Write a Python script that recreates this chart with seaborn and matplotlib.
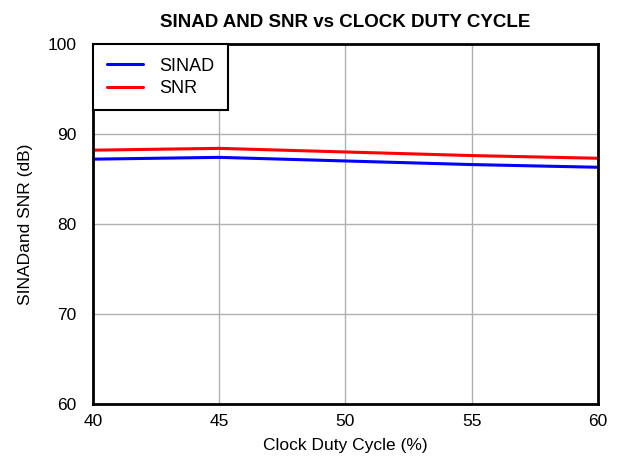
import matplotlib
matplotlib.use('Agg')
import matplotlib.pyplot as plt
import pandas as pd
import seaborn as sns

duty_cycle = [40, 45, 50, 55, 60]
sinad = [87.2, 87.4, 87.0, 86.6, 86.3]
snr = [88.2, 88.4, 88.0, 87.6, 87.3]

df = pd.DataFrame({
    'duty': duty_cycle * 2,
    'value': sinad + snr,
    'series': ['SINAD'] * len(sinad) + ['SNR'] * len(snr),
})

sns.set_style('white')
plt.rcParams['font.family'] = ['Liberation Sans', 'DejaVu Sans']
plt.rcParams['text.color'] = 'black'
plt.rcParams['axes.labelcolor'] = 'black'
plt.rcParams['xtick.color'] = 'black'
plt.rcParams['ytick.color'] = 'black'

fig = plt.figure(figsize=(6.24, 4.58), dpi=100)
ax = fig.add_axes([0.149, 0.118, 0.809, 0.786])

sns.lineplot(data=df, x='duty', y='value', hue='series',
             palette={'SINAD': '#0000ff', 'SNR': '#ff0000'},
             linewidth=2.2, ax=ax)

ax.set_xlim(40, 60)
ax.set_ylim(60, 100)
ax.set_xticks([40, 45, 50, 55, 60])
ax.set_yticks([60, 70, 80, 90, 100])
ax.grid(True, color='#b0b0b0', linewidth=1)
ax.tick_params(axis='both', length=0, labelsize=12.5)
ax.tick_params(axis='y', pad=12)
ax.tick_params(axis='x', pad=7)
for s in ax.spines.values():
    s.set_color('black')
    s.set_linewidth(2)

ax.set_xlabel('Clock Duty Cycle (%)', fontsize=12.5, labelpad=7)
ax.set_ylabel('SINADand SNR (dB)', fontsize=12.5, labelpad=10)
ax.set_title('SINAD AND SNR vs CLOCK DUTY CYCLE', fontsize=13.5,
             fontweight='bold', pad=12)

leg = ax.legend(loc='upper left', borderaxespad=0, fancybox=False,
                fontsize=13, handlelength=2.0, handletextpad=0.9,
                borderpad=0.75, labelspacing=0.3)
leg.get_frame().set_edgecolor('black')
leg.get_frame().set_linewidth(1.5)
leg.get_frame().set_alpha(1)
for line in leg.get_lines():
    line.set_linewidth(2.2)

fig.savefig('out.png', dpi=100)
